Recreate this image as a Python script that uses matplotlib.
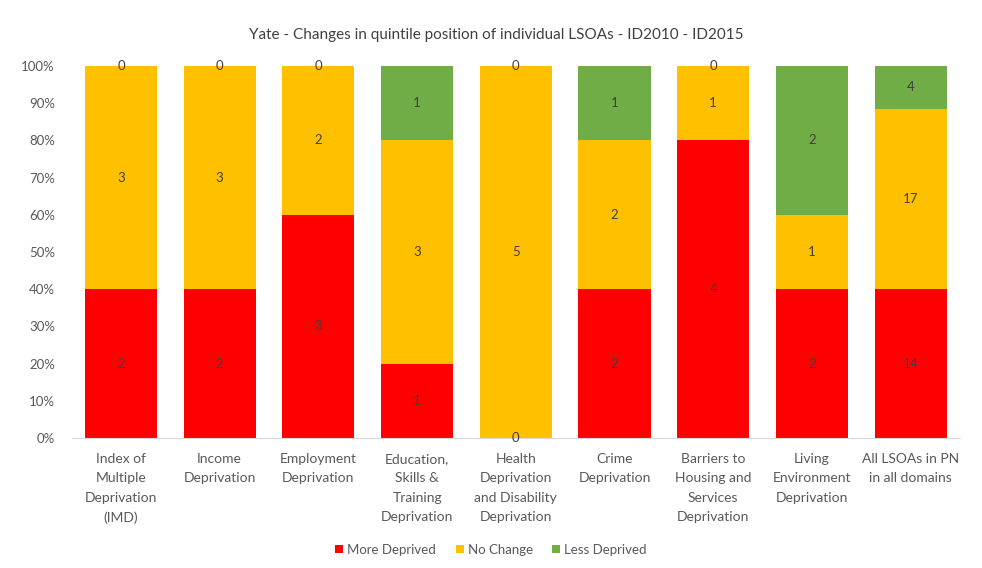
import matplotlib
matplotlib.use("Agg")
import matplotlib.pyplot as plt
import numpy as np

categories = ["Index of\nMultiple\nDeprivation\n(IMD)", "Income\nDeprivation", "Employment\nDeprivation",
              "Education,\nSkills &\nTraining\nDeprivation", "Health\nDeprivation\nand Disability\nDeprivation",
              "Crime\nDeprivation", "Barriers to\nHousing and\nServices\nDeprivation",
              "Living\nEnvironment\nDeprivation", "All LSOAs in PN\nin all domains"]
more_deprived = [2, 2, 3, 1, 0, 2, 4, 2, 14]
no_change = [3, 3, 2, 3, 5, 2, 1, 1, 17]
less_deprived = [0, 0, 0, 1, 0, 1, 0, 2, 4]
series_names = ["More Deprived", "No Change", "Less Deprived"]
colors = ["#FF0000", "#FFC000", "#70AD47"]
yticks = [0, 10, 20, 30, 40, 50, 60, 70, 80, 90, 100]

plt.rcParams['font.family'] = ['Lato', 'DejaVu Sans']

fig = plt.figure(figsize=(9.82, 5.68), dpi=100)
ax = fig.add_axes([0.0729, 0.2289, 0.9047, 0.6549])

series = [np.array(more_deprived, float), np.array(no_change, float), np.array(less_deprived, float)]
total = series[0] + series[1] + series[2]
x = np.arange(len(categories))
bottom = np.zeros(len(categories))
for vals, name, col in zip(series, series_names, colors):
    pct = vals / total * 100
    ax.bar(x, pct, bottom=bottom, width=0.73, color=col, label=name, zorder=2)
    for xi, b, p, v in zip(x, bottom, pct, vals):
        ax.text(xi, b + p / 2, f"{int(v)}", ha='center', va='center', fontsize=9.5, color='#404040', zorder=3)
    bottom = bottom + pct

ax.set_xlim(-0.5, len(categories) - 0.5)
ax.set_ylim(0, 100)
ax.set_yticks(yticks)
ax.set_yticklabels([f"{t}%" for t in yticks], fontsize=9.5, color='#595959')
ax.set_xticks(x)
ax.set_xticklabels(categories, fontsize=10, color='#595959', va='top', linespacing=1.72)
ax.tick_params(axis='both', length=0)
ax.tick_params(axis='x', pad=11)
ax.tick_params(axis='y', pad=12)
for s in ['top', 'right', 'left']:
    ax.spines[s].set_visible(False)
ax.spines['bottom'].set_color('#D9D9D9')

fig.suptitle("Yate - Changes in quintile position of individual LSOAs - ID2010 - ID2015",
             y=0.95, fontsize=11, color='#404040', x=0.505)

leg = fig.legend(loc='center', bbox_to_anchor=(0.5, 0.032), ncol=3, frameon=False, fontsize=9.5,
                 handlelength=0.6, handleheight=0.6, handletextpad=0.3, columnspacing=1.5)
for t in leg.get_texts():
    t.set_color('#595959')

fig.savefig("out.png", dpi=100)
